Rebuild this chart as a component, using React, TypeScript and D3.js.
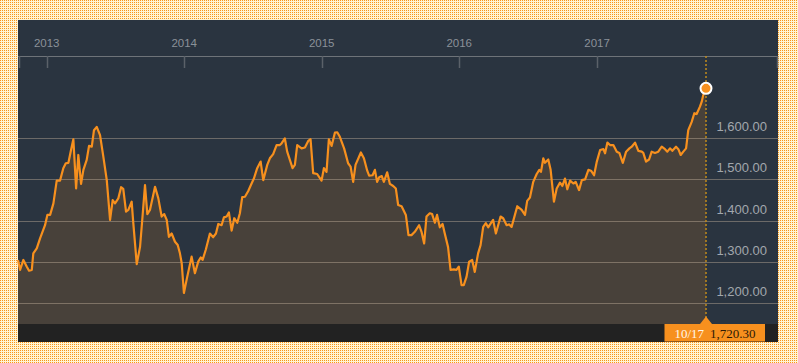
import React, { useEffect, useRef } from "react";
import { select, scaleTime, scaleLinear, area, line, format } from "d3";

// chart values
const yearTicks = [2013, 2014, 2015, 2016, 2017];
const priceTicks = [1200, 1300, 1400, 1500, 1600];
const lastDateLabel = "10/17";
const lastPrice = 1720.3;

// dates as fractional years
const yearFrac = [
  2012.792, 2012.807, 2012.831, 2012.855, 2012.872, 2012.892, 2012.903, 2012.928, 2012.952, 2012.988,
  2013.005, 2013.025, 2013.049, 2013.073, 2013.097, 2013.121, 2013.139, 2013.158, 2013.177, 2013.194,
  2013.214, 2013.23, 2013.25, 2013.267, 2013.291, 2013.308, 2013.328, 2013.344, 2013.364, 2013.388,
  2013.412, 2013.437, 2013.461, 2013.48, 2013.497, 2013.521, 2013.541, 2013.557, 2013.577, 2013.594,
  2013.618, 2013.63, 2013.655, 2013.679, 2013.695, 2013.715, 2013.732, 2013.751, 2013.788, 2013.812,
  2013.836, 2013.855, 2013.873, 2013.889, 2013.909, 2013.933, 2013.953, 2013.969, 2013.982, 2013.998,
  2014.02, 2014.054, 2014.078, 2014.102, 2014.12, 2014.134, 2014.158, 2014.187, 2014.211, 2014.231,
  2014.248, 2014.272, 2014.289, 2014.309, 2014.325, 2014.345, 2014.364, 2014.386, 2014.405, 2014.422,
  2014.442, 2014.466, 2014.49, 2014.507, 2014.531, 2014.556, 2014.575, 2014.604, 2014.623, 2014.647,
  2014.672, 2014.696, 2014.708, 2014.732, 2014.749, 2014.788, 2014.805, 2014.822, 2014.854, 2014.878,
  2014.902, 2014.919, 2014.938, 2014.967, 2014.999, 2015.016, 2015.035, 2015.052, 2015.072, 2015.096,
  2015.113, 2015.132, 2015.163, 2015.192, 2015.21, 2015.229, 2015.246, 2015.285, 2015.307, 2015.331,
  2015.345, 2015.37, 2015.387, 2015.403, 2015.418, 2015.437, 2015.452, 2015.476, 2015.496, 2015.52,
  2015.539, 2015.556, 2015.581, 2015.612, 2015.631, 2015.653, 2015.677, 2015.708, 2015.726, 2015.745,
  2015.762, 2015.786, 2015.803, 2015.823, 2015.839, 2015.859, 2015.879, 2015.895, 2015.919, 2015.937,
  2015.961, 2015.98, 2015.997, 2016.017, 2016.033, 2016.053, 2016.072, 2016.094, 2016.113, 2016.137,
  2016.155, 2016.174, 2016.193, 2016.21, 2016.23, 2016.246, 2016.266, 2016.3, 2016.319, 2016.344,
  2016.363, 2016.38, 2016.421, 2016.453, 2016.477, 2016.493, 2016.513, 2016.537, 2016.562, 2016.581,
  2016.593, 2016.61, 2016.622, 2016.646, 2016.663, 2016.687, 2016.707, 2016.731, 2016.748, 2016.767,
  2016.784, 2016.804, 2016.828, 2016.845, 2016.869, 2016.889, 2016.913, 2016.937, 2016.956, 2016.978,
  2016.998, 2017.022, 2017.046, 2017.058, 2017.075, 2017.094, 2017.118, 2017.143, 2017.162, 2017.187,
  2017.211, 2017.235, 2017.252, 2017.276, 2017.3, 2017.325, 2017.336, 2017.356, 2017.378, 2017.397,
  2017.421, 2017.445, 2017.47, 2017.494, 2017.511, 2017.53, 2017.547, 2017.574, 2017.591, 2017.608,
  2017.627, 2017.647, 2017.663, 2017.688, 2017.707, 2017.724, 2017.748, 2017.761, 2017.772, 2017.792,
];

const price = [
  1305, 1281, 1305, 1289, 1279, 1281, 1321, 1333, 1357, 1389,
  1414, 1414, 1442, 1497, 1497, 1527, 1539, 1540, 1571, 1597,
  1478, 1559, 1489, 1523, 1547, 1581, 1579, 1619, 1627, 1607,
  1555, 1498, 1402, 1450, 1442, 1454, 1481, 1477, 1422, 1426,
  1446, 1394, 1295, 1337, 1402, 1486, 1416, 1426, 1482, 1454,
  1410, 1416, 1402, 1361, 1369, 1349, 1341, 1321, 1297, 1225,
  1261, 1313, 1273, 1301, 1311, 1305, 1331, 1369, 1360, 1369,
  1392, 1389, 1408, 1410, 1420, 1376, 1406, 1395, 1418, 1457,
  1458, 1472, 1490, 1502, 1527, 1543, 1498, 1535, 1551, 1561,
  1583, 1583, 1587, 1599, 1567, 1527, 1535, 1583, 1575, 1577,
  1593, 1597, 1515, 1513, 1497, 1527, 1518, 1597, 1581, 1613,
  1614, 1603, 1575, 1539, 1531, 1494, 1535, 1565, 1551, 1521,
  1509, 1510, 1523, 1494, 1505, 1508, 1494, 1517, 1489, 1484,
  1478, 1438, 1435, 1414, 1365, 1365, 1373, 1389, 1373, 1345,
  1410, 1418, 1416, 1395, 1414, 1384, 1392, 1369, 1336, 1281,
  1282, 1281, 1289, 1244, 1244, 1264, 1301, 1305, 1276, 1321,
  1341, 1385, 1394, 1384, 1394, 1402, 1369, 1410, 1406, 1389,
  1391, 1385, 1435, 1426, 1414, 1448, 1456, 1494, 1513, 1523,
  1518, 1551, 1540, 1548, 1523, 1446, 1478, 1492, 1484, 1502,
  1476, 1497, 1490, 1494, 1474, 1498, 1500, 1523, 1521, 1510,
  1543, 1571, 1573, 1563, 1589, 1583, 1583, 1567, 1564, 1540,
  1567, 1575, 1579, 1589, 1569, 1567, 1564, 1543, 1548, 1567,
  1564, 1567, 1579, 1573, 1567, 1575, 1569, 1579, 1573, 1559,
  1567, 1575, 1619, 1639, 1660, 1658, 1676, 1688, 1704, 1720.3,
];

const fracToDate = (f: number) => {
  const y = Math.floor(f);
  const start = new Date(y, 0, 1).getTime();
  const end = new Date(y + 1, 0, 1).getTime();
  return new Date(start + (f - y) * (end - start));
};

interface Row {
  date: Date;
  value: number;
}

const rows: Row[] = yearFrac.map((f, i) => ({ date: fracToDate(f), value: price[i] }));

const WIDTH = 798;
const HEIGHT = 363;
const PANEL_X = 18;
const PANEL_Y = 20;
const PANEL_W = 760;
const PANEL_H = 322;
const PLOT_LEFT = 18;
const PLOT_RIGHT = 706;
const PLOT_TOP = 56;
const PLOT_BOTTOM = 324;

const ORANGE = "#f7901e";

const App = () => {
  const svgRef = useRef<SVGSVGElement | null>(null);

  useEffect(() => {
    const svg = select(svgRef.current);
    svg.selectAll("*").remove();
    svg.attr("width", WIDTH).attr("height", HEIGHT);

    const xScale = scaleTime()
      .domain([fracToDate(yearFrac[0]), fracToDate(yearFrac[yearFrac.length - 1])])
      .range([PLOT_LEFT, PLOT_RIGHT]);
    const yScale = scaleLinear().domain([1150, 1798.5]).range([PLOT_BOTTOM, PLOT_TOP]);

    // dotted frame background
    const defs = svg.append("defs");
    const pat = defs
      .append("pattern")
      .attr("id", "dots")
      .attr("width", 2)
      .attr("height", 2)
      .attr("patternUnits", "userSpaceOnUse");
    pat.append("rect").attr("width", 2).attr("height", 2).attr("fill", "#fff4d2");
    pat.append("rect").attr("width", 1).attr("height", 1).attr("fill", "#f8941c");
    svg.append("rect").attr("width", WIDTH).attr("height", HEIGHT).attr("fill", "url(#dots)");

    // panel
    svg
      .append("rect")
      .attr("x", PANEL_X)
      .attr("y", PANEL_Y)
      .attr("width", PANEL_W)
      .attr("height", PANEL_H)
      .attr("fill", "#2a3440");

    // area + line
    const areaGen = area<Row>()
      .x((d) => xScale(d.date))
      .y0(PLOT_BOTTOM)
      .y1((d) => yScale(d.value));
    svg
      .append("path")
      .datum(rows)
      .attr("d", areaGen)
      .attr("fill", ORANGE)
      .attr("fill-opacity", 0.15);

    // gridlines
    svg
      .append("g")
      .selectAll("line")
      .data(priceTicks)
      .enter()
      .append("line")
      .attr("x1", PANEL_X)
      .attr("x2", PANEL_X + PANEL_W)
      .attr("y1", (d) => Math.round(yScale(d)) + 0.5)
      .attr("y2", (d) => Math.round(yScale(d)) + 0.5)
      .attr("stroke", "rgba(215,195,170,0.38)")
      .attr("stroke-width", 1.2);

    svg
      .append("g")
      .selectAll("text")
      .data(priceTicks)
      .enter()
      .append("text")
      .attr("x", 767)
      .attr("y", (d) => yScale(d) - 7)
      .attr("text-anchor", "end")
      .attr("font-family", "Liberation Sans, Arial, sans-serif")
      .attr("font-size", 13)
      .attr("fill", "#a2a7ad")
      .text((d) => format(",.2f")(d));

    const lineGen = line<Row>()
      .x((d) => xScale(d.date))
      .y((d) => yScale(d.value));
    svg
      .append("path")
      .datum(rows)
      .attr("d", lineGen)
      .attr("fill", "none")
      .attr("stroke", ORANGE)
      .attr("stroke-width", 2.2)
      .attr("stroke-linejoin", "round");

    // bottom strip
    svg
      .append("rect")
      .attr("x", PANEL_X)
      .attr("y", PLOT_BOTTOM)
      .attr("width", PANEL_W)
      .attr("height", PANEL_Y + PANEL_H - PLOT_BOTTOM)
      .attr("fill", "#222222");

    // top time axis
    const axisG = svg.append("g");
    axisG
      .append("line")
      .attr("x1", PANEL_X)
      .attr("x2", PANEL_X + PANEL_W)
      .attr("y1", PLOT_TOP + 0.5)
      .attr("y2", PLOT_TOP + 0.5)
      .attr("stroke", "#6e7379")
      .attr("stroke-width", 1.2);
    const tickXs = [PANEL_X + 1, ...yearTicks.map((y) => xScale(new Date(y, 0, 1))), PANEL_X + PANEL_W - 1];
    axisG
      .selectAll(".tick")
      .data(tickXs)
      .enter()
      .append("line")
      .attr("class", "tick")
      .attr("x1", (d) => Math.round(d) + 0.5)
      .attr("x2", (d) => Math.round(d) + 0.5)
      .attr("y1", PLOT_TOP)
      .attr("y2", PLOT_TOP + 12)
      .attr("stroke", "#5b6169")
      .attr("stroke-width", 1.5);
    axisG
      .selectAll(".lbl")
      .data(yearTicks)
      .enter()
      .append("text")
      .attr("class", "lbl")
      .attr("x", (y) => xScale(new Date(y, 0, 1)))
      .attr("y", 46.5)
      .attr("text-anchor", "middle")
      .attr("font-family", "Liberation Sans, Arial, sans-serif")
      .attr("font-size", 11.5)
      .attr("fill", "#8a9199")
      .text((y) => String(y));

    // current value marker
    const lastRow = rows[rows.length - 1];
    const lx = xScale(lastRow.date);
    const ly = yScale(lastRow.value);
    svg
      .append("line")
      .attr("x1", lx)
      .attr("x2", lx)
      .attr("y1", PLOT_TOP)
      .attr("y2", PLOT_BOTTOM)
      .attr("stroke", "#c08a1c")
      .attr("stroke-width", 1.5)
      .attr("stroke-dasharray", "2,2");
    svg
      .append("circle")
      .attr("cx", lx)
      .attr("cy", ly)
      .attr("r", 5.5)
      .attr("fill", ORANGE)
      .attr("stroke", "#ffffff")
      .attr("stroke-width", 2);

    // value tag at the bottom
    const tag = svg.append("g");
    tag
      .append("rect")
      .attr("x", lx - 41.5)
      .attr("y", PLOT_BOTTOM)
      .attr("width", 100.5)
      .attr("height", 17.5)
      .attr("fill", ORANGE);
    tag
      .append("path")
      .attr("d", `M${lx - 6},${PLOT_BOTTOM} L${lx},${PLOT_BOTTOM - 7.5} L${lx + 6},${PLOT_BOTTOM} Z`)
      .attr("fill", ORANGE);
    tag
      .append("text")
      .attr("x", lx - 31.5)
      .attr("y", 337.5)
      .attr("font-family", "Liberation Serif, Times New Roman, serif")
      .attr("font-size", 13)
      .attr("fill", "#fff6ea")
      .text(lastDateLabel);
    tag
      .append("text")
      .attr("x", lx + 4)
      .attr("y", 337.5)
      .attr("font-family", "Liberation Serif, Times New Roman, serif")
      .attr("font-size", 13)
      .attr("fill", "#2c1a06")
      .text(format(",.2f")(lastPrice));
  }, []);

  return (
    <div style={{ position: "absolute", left: 0, top: 0 }}>
      <svg ref={svgRef} style={{ display: "block" }}></svg>
    </div>
  );
};

export default App;
